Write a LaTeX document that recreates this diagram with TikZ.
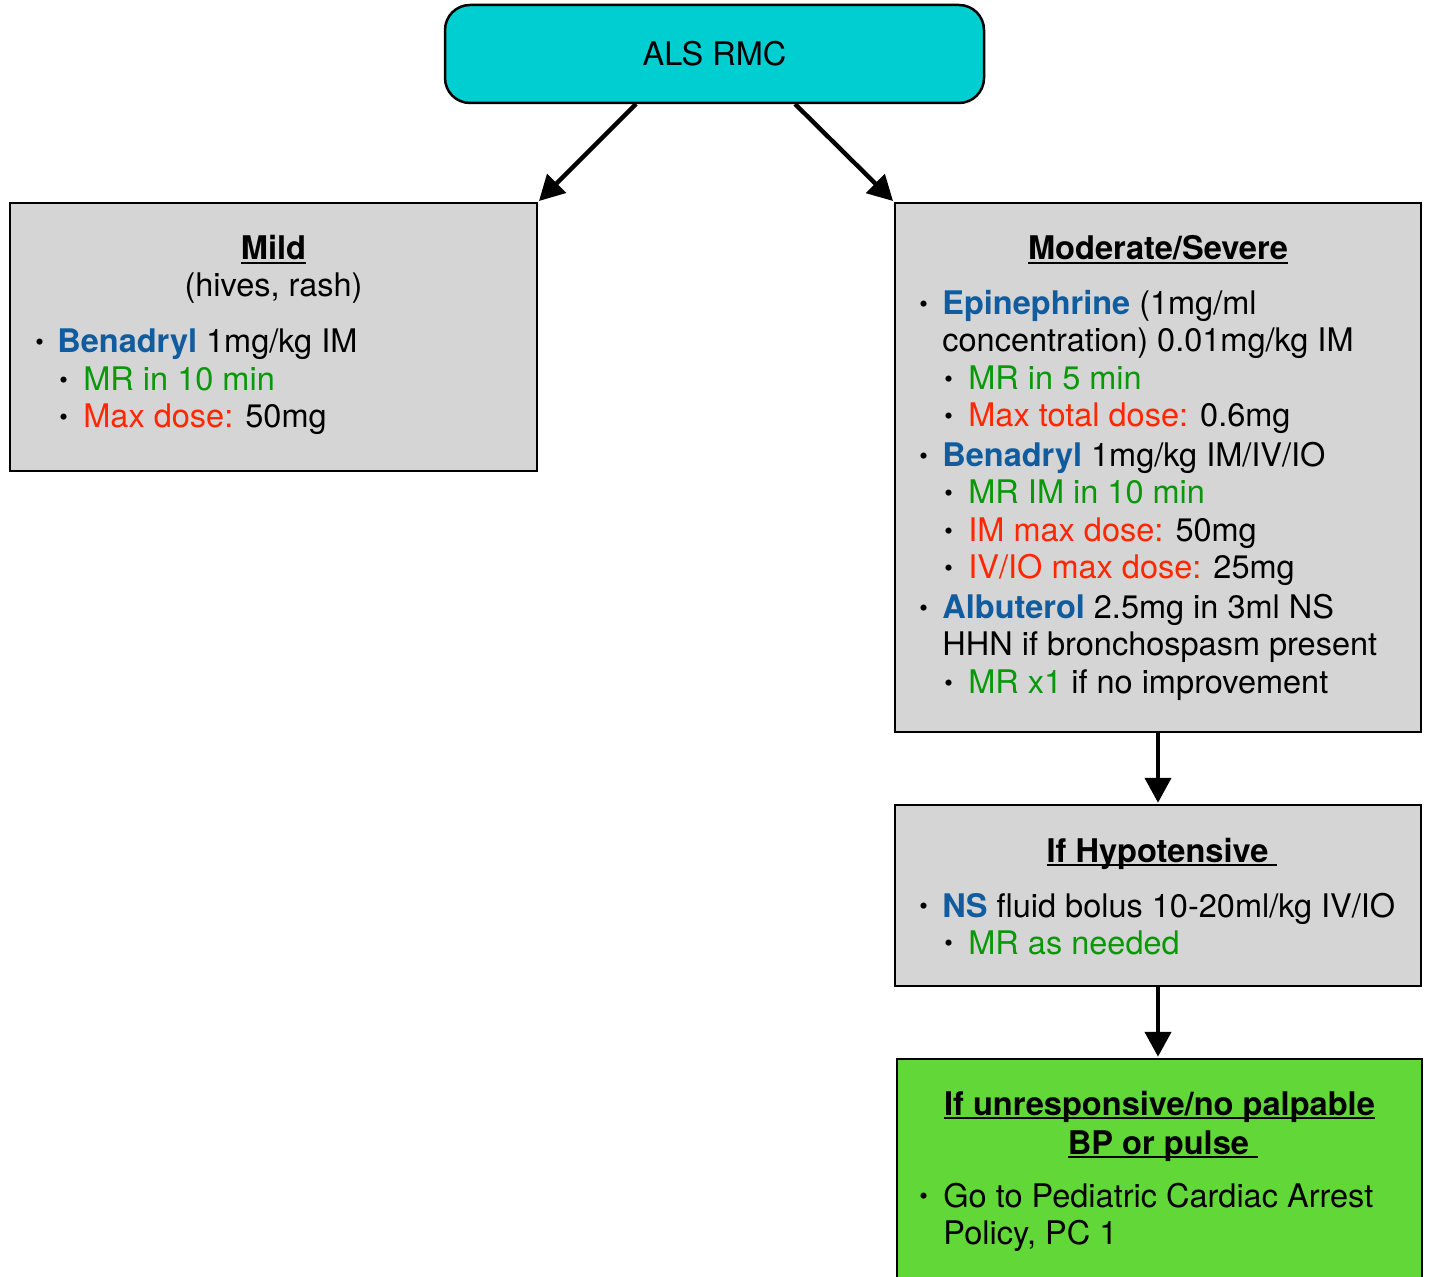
\documentclass[tikz,border=0pt]{standalone}
\usepackage{fontspec}
\usepackage{graphicx}
\setmainfont{TeX Gyre Heros}
\usetikzlibrary{arrows.meta}
\definecolor{drugblue}{RGB}{16,92,158}
\definecolor{mrgreen}{RGB}{10,152,10}
\definecolor{maxred}{RGB}{255,38,0}
\definecolor{boxgray}{RGB}{213,213,213}
\definecolor{alscyan}{RGB}{0,206,209}
\definecolor{arrestgreen}{RGB}{98,216,56}
\newcommand\myul[1]{\setbox0\hbox{#1}\rlap{\rule[-2pt]{\wd0}{0.9pt}}\box0}
\newcommand\bul[1][11pt]{\makebox[#1][l]{\raisebox{1.3pt}{\scalebox{0.75}{•}}}}
\newcommand\drug[1]{\textcolor{drugblue}{\bfseries #1}}
\newcommand\mr[1]{\textcolor{mrgreen}{#1}}
\newcommand\mx[1]{\textcolor{maxred}{#1}}
\tikzset{
  every node/.style={font=\fontsize{16.25}{19}\selectfont},
  boxa/.style={draw=black, line width=1.25pt, fill=boxgray, rectangle, inner sep=0pt},
  ln/.style={anchor=base west, inner sep=0pt},
  ttl/.style={anchor=base, inner sep=0pt, font=\fontsize{16.3}{19}\selectfont\bfseries},
  arr/.style={line width=2.2pt, -{Triangle[length=12.5pt,width=13pt]}, shorten >=0.5pt}
}
\begin{document}
\begin{tikzpicture}[x=0.5pt,y=-0.5pt]
\useasboundingbox (0,0) rectangle (1429,1277);
% boxes
\node[draw=black, line width=1.25pt, fill=alscyan, rounded corners=12.5pt, minimum width=269.5pt, minimum height=49pt, inner sep=0pt] (als) at (714.5,54) {ALS RMC};
\node[boxa, minimum width=263.5pt, minimum height=134pt] (mild) at (273.5,337) {};
\node[boxa, minimum width=263pt, minimum height=264.5pt] (mod) at (1158,467.5) {};
\node[boxa, minimum width=263pt, minimum height=90.5pt] (hypo) at (1158,895.5) {};
\node[draw=black, line width=1.25pt, fill=arrestgreen, rectangle, inner sep=0pt, minimum width=262.5pt, minimum height=115.5pt] (arrest) at (1159.5,1174.5) {};
% mild text
\node[ttl] (mildt) at (273.5,260) {\myul{Mild}};
\node[anchor=base, inner sep=0pt] (mildt2) at (273.5,297) {(hives, rash)};
\node[ln] (m1) at (35,353) {\bul[11pt]\drug{Benadryl} 1mg/kg IM};
\node[ln] (m2) at (59,391) {\bul[12pt]\mr{MR in 10 min}};
\node[ln] (m3) at (59,428) {\bul[12pt]\mx{Max dose:} 50mg};
% moderate text
\node[ttl] (modt) at (1158,260) {\myul{Moderate/Severe}};
\node[ln] (d1) at (919,315) {\bul[11.5pt]\drug{Epinephrine} (1mg/ml};
\node[ln] (d1b) at (942,352) {concentration) 0.01mg/kg IM};
\node[ln] (d2) at (944,390) {\bul[12pt]\mr{MR in 5 min}};
\node[ln] (d3) at (944,427) {\bul[12pt]\mx{Max total dose:} 0.6mg};
\node[ln] (d4) at (919,467) {\bul[11.5pt]\drug{Benadryl} 1mg/kg IM/IV/IO};
\node[ln] (d5) at (944,504) {\bul[12pt]\mr{MR IM in 10 min}};
\node[ln] (d6) at (944,542) {\bul[12pt]\mx{IM max dose:} 50mg};
\node[ln] (d7) at (944,579) {\bul[12pt]\mx{IV/IO max dose:} 25mg};
\node[ln] (d8) at (919,619) {\bul[11.5pt]\drug{Albuterol} 2.5mg in 3ml NS};
\node[ln] (d8b) at (942,656) {HHN if bronchospasm present};
\node[ln] (d9) at (944,694) {\bul[12pt]\mr{MR x1} if no improvement};
% hypotensive text
\node[ttl] (hypot) at (1162,862) {\myul{If Hypotensive\ }};
\node[ln] (h1) at (919,917) {\bul[11.5pt]\drug{NS} fluid bolus 10-20ml/kg IV/IO};
\node[ln] (h2) at (944,954) {\bul[12pt]\mr{MR as needed}};
% arrest text
\node[ttl] (arrt) at (1159.5,1115) {\myul{If unresponsive/no palpable}};
\node[ttl] (arrt2) at (1163,1154) {\myul{BP or pulse\ }};
\node[ln] (a1) at (919,1207) {\bul[12pt]Go to Pediatric Cardiac Arrest};
\node[ln] (a1b) at (943,1244) {Policy, PC 1};
% connectors
\coordinate (s1) at (636,104);
\coordinate (s2) at (795,104);
\draw[arr] (s1) -- (mild.north east);
\draw[arr] (s2) -- (mod.north west);
\draw[arr] (mod.south) -- (hypo.north);
\draw[arr] (hypo.south) -- (hypo.south |- arrest.north);
\end{tikzpicture}
\end{document}
